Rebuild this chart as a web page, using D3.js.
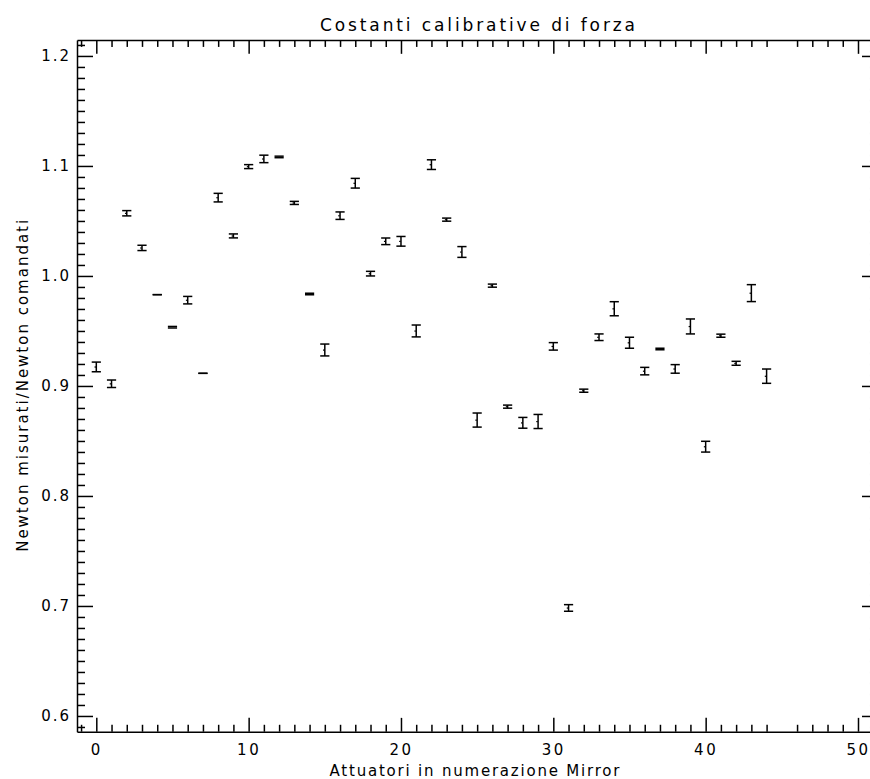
<!DOCTYPE html>
<html><head><meta charset="utf-8">
<script src="https://cdn.jsdelivr.net/npm/d3@7"></script>
<style>
html,body{margin:0;padding:0;background:#fff;}
svg text{font-family:"DejaVu Sans",sans-serif;fill:#000;}
</style></head>
<body><svg id="c" width="870" height="779"></svg>
<script>
const title = "Costanti calibrative di forza";
const xLabel = "Attuatori in numerazione Mirror";
const yLabel = "Newton misurati/Newton comandati";
const actuators = [0,1,2,3,4,5,6,7,8,9,10,11,12,13,14,15,16,17,18,19,20,21,22,23,24,25,26,27,28,29,30,31,32,33,34,35,36,37,38,39,40,41,42,43,44];
const ratios = [0.9173,0.902,1.057,1.0255,0.983,0.9534,0.978,0.9115,1.0712,1.0364,1.0994,1.1064,1.1082,1.0664,0.9836,0.9327,1.0548,1.0843,1.0021,1.0315,1.0315,0.95,1.1012,1.0512,1.0218,0.869,0.9912,0.8812,0.8665,0.8677,0.936,0.6982,0.8957,0.9443,0.9702,0.9393,0.9135,0.9336,0.9155,0.9541,0.8448,0.9457,0.9206,0.9844,0.9089];
const errors = [0.0044,0.0034,0.0024,0.0024,0,0.0007,0.0034,0,0.0039,0.0018,0.0018,0.0034,0.0007,0.0014,0.0007,0.0054,0.0034,0.0044,0.0021,0.003,0.0044,0.0054,0.0044,0.0014,0.0049,0.0064,0.0014,0.0014,0.0049,0.0064,0.0034,0.003,0.0014,0.003,0.0064,0.005,0.0034,0.0007,0.0039,0.0068,0.0049,0.0014,0.0018,0.0077,0.0065];
const xMajor = [0,10,20,30,40,50];
const xMinor = [-1,1,2,3,4,5,6,7,8,9,11,12,13,14,15,16,17,18,19,21,22,23,24,25,26,27,28,29,31,32,33,34,35,36,37,38,39,41,42,43,44,46,47,48,49,51];
const yMajor = [0.6,0.7,0.8,0.9,1.0,1.1,1.2];
const yMinor = [0.59,0.61,0.62,0.63,0.64,0.65,0.66,0.67,0.68,0.69,0.71,0.72,0.73,0.74,0.75,0.76,0.77,0.78,0.79,0.81,0.82,0.83,0.84,0.85,0.86,0.87,0.88,0.89,0.91,0.92,0.93,0.94,0.95,0.96,0.97,0.98,0.99,1.01,1.02,1.03,1.04,1.05,1.06,1.07,1.08,1.09,1.11,1.12,1.13,1.14,1.15,1.16,1.17,1.18,1.19,1.21];

const L = 77, R = 878, T = 40, B = 731.7;
const x = d3.scaleLinear().domain([-1.267, 51.313]).range([L, R]);
const y = d3.scaleLinear().domain([0.5857, 1.2145]).range([B, T]);
const svg = d3.select("#c");
const sw = 1.5;
const xTL = 0.02 * (B - T), yTL = 0.02 * (R - L);

function styleAxis(g){
  g.select(".domain").attr("stroke","#000").attr("stroke-width",sw);
  g.selectAll(".tick line").attr("stroke","#000").attr("stroke-width",sw);
}
// bottom
svg.append("g").attr("transform",`translate(0,${B})`)
  .call(d3.axisBottom(x).tickValues(xMajor).tickSizeInner(-xTL).tickSizeOuter(0).tickPadding(13).tickFormat(d3.format("d")))
  .call(styleAxis)
  .call(g=>g.selectAll("text").attr("font-size",15).attr("letter-spacing","2.5px").attr("font-family","DejaVu Sans").attr("fill","#000"));
svg.append("g").attr("transform",`translate(0,${B})`)
  .call(d3.axisBottom(x).tickValues(xMinor).tickSize(-xTL/2).tickFormat(""))
  .call(styleAxis).call(g=>g.select(".domain").remove());
// top
svg.append("g").attr("transform",`translate(0,${T})`)
  .call(d3.axisTop(x).tickValues(xMajor).tickSizeInner(-xTL).tickSizeOuter(0).tickFormat(""))
  .call(styleAxis);
svg.append("g").attr("transform",`translate(0,${T})`)
  .call(d3.axisTop(x).tickValues(xMinor).tickSize(-xTL/2).tickFormat(""))
  .call(styleAxis).call(g=>g.select(".domain").remove());
// left
svg.append("g").attr("transform",`translate(${L},0)`)
  .call(d3.axisLeft(y).tickValues(yMajor).tickSizeInner(-yTL).tickSizeOuter(0).tickPadding(6).tickFormat(d3.format(".1f")))
  .call(styleAxis)
  .call(g=>g.selectAll("text").attr("font-size",15).attr("letter-spacing","2px").attr("font-family","DejaVu Sans").attr("fill","#000"));
svg.append("g").attr("transform",`translate(${L},0)`)
  .call(d3.axisLeft(y).tickValues(yMinor).tickSize(-yTL/2).tickFormat(""))
  .call(styleAxis).call(g=>g.select(".domain").remove());
// right
svg.append("g").attr("transform",`translate(${R},0)`)
  .call(d3.axisRight(y).tickValues(yMajor).tickSizeInner(-yTL).tickSizeOuter(0).tickFormat(""))
  .call(styleAxis);
svg.append("g").attr("transform",`translate(${R},0)`)
  .call(d3.axisRight(y).tickValues(yMinor).tickSize(-yTL/2).tickFormat(""))
  .call(styleAxis).call(g=>g.select(".domain").remove());

// error bars
const data = actuators.map((a,i)=>({a, v:ratios[i], e:errors[i]}));
const cap = 4.6;
const eb = svg.append("g").attr("stroke","#000").attr("stroke-width",sw).attr("fill","none");
eb.selectAll("line.v").data(data.filter(d=>d.e>0.001)).join("line").attr("class","v")
  .attr("x1",d=>x(d.a)).attr("x2",d=>x(d.a)).attr("y1",d=>y(d.v+d.e)).attr("y2",d=>y(d.v-d.e));
eb.selectAll("line.t").data(data).join("line").attr("class","t")
  .attr("x1",d=>x(d.a)-cap).attr("x2",d=>x(d.a)+cap).attr("y1",d=>y(d.v+d.e)).attr("y2",d=>y(d.v+d.e));
eb.selectAll("line.b").data(data).join("line").attr("class","b")
  .attr("x1",d=>x(d.a)-cap).attr("x2",d=>x(d.a)+cap).attr("y1",d=>y(d.v-d.e)).attr("y2",d=>y(d.v-d.e));
svg.append("g").selectAll("rect").data(data.filter(d=>d.e>0.001)).join("rect")
  .attr("x",d=>x(d.a)-1.8).attr("y",d=>y(d.v)-0.5).attr("width",1.5).attr("height",1.2).attr("fill","#000");

// texts
svg.append("text").attr("x",(L+R)/2).attr("y",31).attr("text-anchor","middle")
  .attr("font-size",17).attr("textLength",315).attr("lengthAdjust","spacing").text(title);
svg.append("text").attr("x",(L+R)/2 - 3).attr("y",776).attr("text-anchor","middle")
  .attr("font-size",15).attr("textLength",290).attr("lengthAdjust","spacing").text(xLabel);
svg.append("text").attr("transform",`translate(28,${(T+B)/2}) rotate(-90)`).attr("text-anchor","middle")
  .attr("font-size",15).attr("textLength",332).attr("lengthAdjust","spacing").text(yLabel);
</script></body></html>
